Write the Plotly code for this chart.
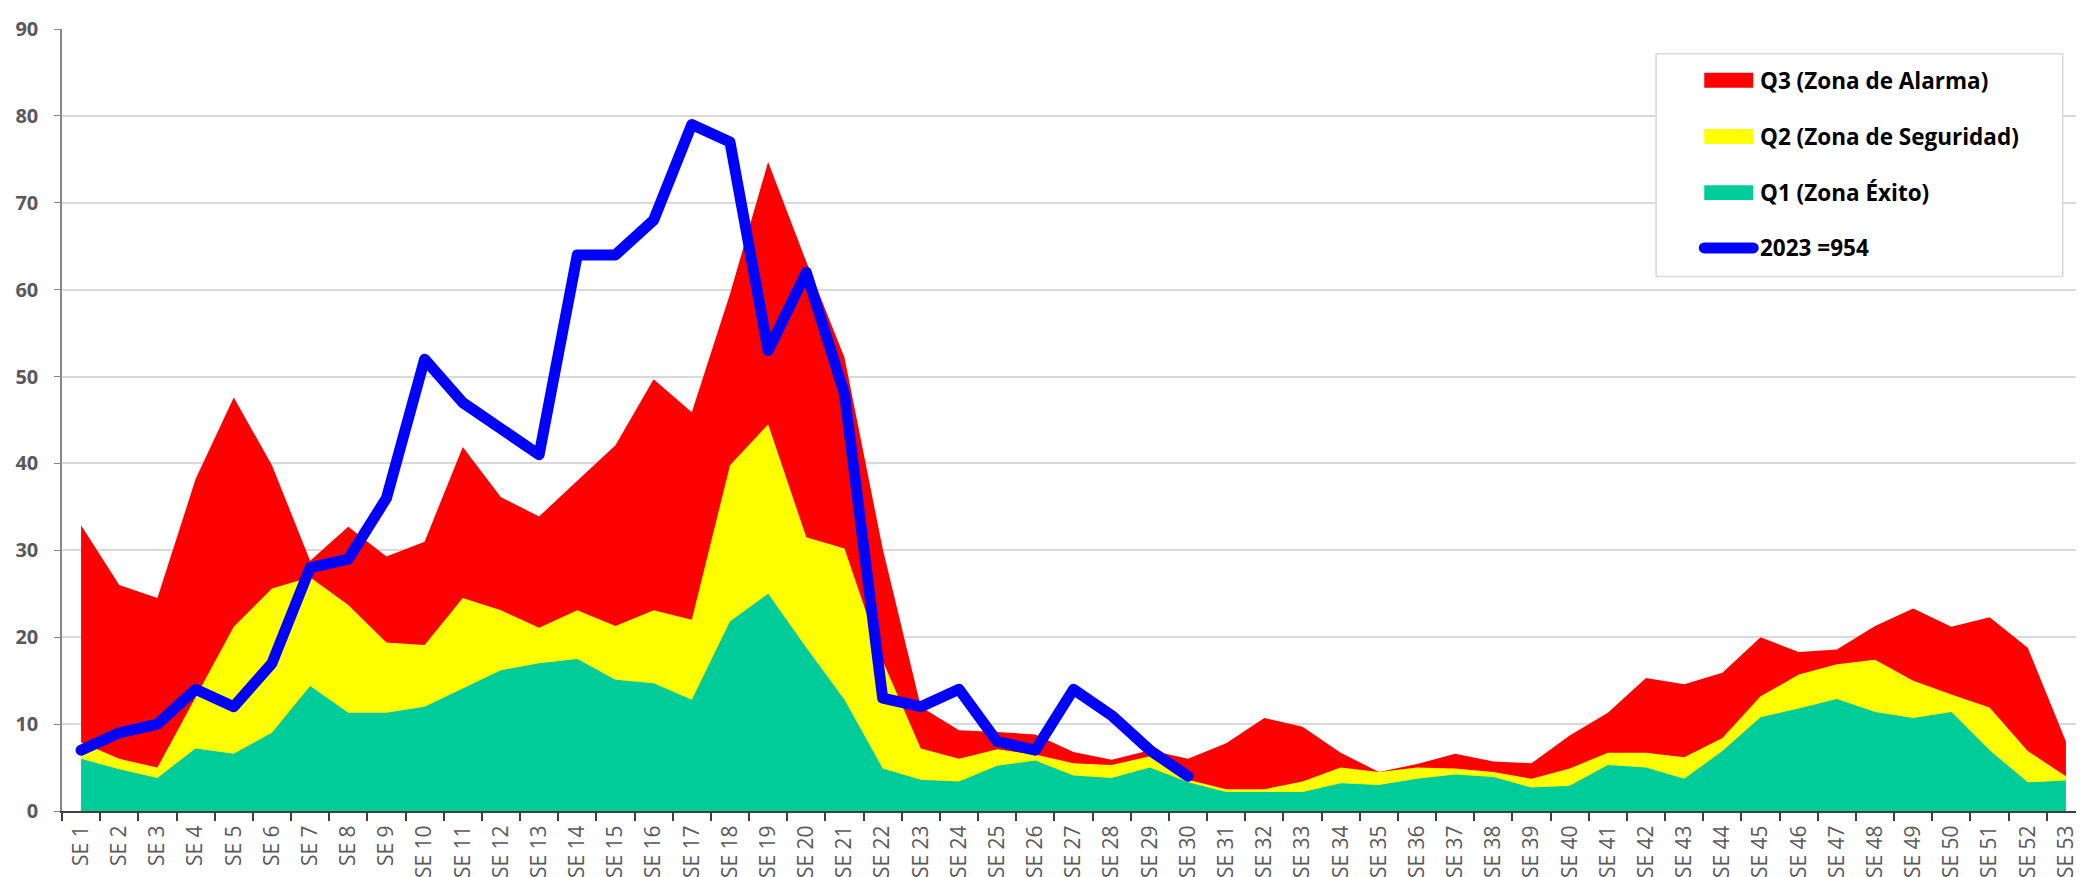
"""Canal endémico 2023 — zonas Q1/Q2/Q3 por semana epidemiológica y casos 2023."""

import plotly.graph_objects as go

WEEKS = [f"SE {i}" for i in range(1, 54)]

# Q3 (zona de alarma) — upper limit per week
Q3 = [32.9, 26.0, 24.5, 38.2, 47.6, 39.8, 28.8, 32.7, 29.3, 31.0,
      41.9, 36.1, 33.9, 38.0, 42.1, 49.7, 45.9, 59.5, 74.7, 63.2,
      52.2, 30.2, 12.0, 9.3, 9.1, 8.8, 6.8, 5.9, 7.0, 6.0,
      7.8, 10.7, 9.7, 6.7, 4.5, 5.4, 6.6, 5.7, 5.5, 8.7,
      11.3, 15.3, 14.6, 15.9, 20.0, 18.3, 18.6, 21.3, 23.3, 21.2,
      22.3, 18.8, 8.0]

# Q2 (zona de seguridad)
Q2 = [7.9, 6.0, 5.0, 13.1, 21.2, 25.6, 26.9, 23.7, 19.4, 19.1,
      24.5, 23.1, 21.1, 23.1, 21.3, 23.1, 22.0, 39.8, 44.5, 31.5,
      30.2, 17.3, 7.2, 6.0, 7.1, 6.5, 5.5, 5.3, 6.3, 3.6,
      2.5, 2.5, 3.4, 5.0, 4.5, 5.0, 4.9, 4.5, 3.7, 4.9,
      6.7, 6.7, 6.2, 8.4, 13.2, 15.7, 16.9, 17.4, 15.0, 13.4,
      11.9, 6.9, 4.0]

# Q1 (zona de éxito)
Q1 = [6.0, 4.8, 3.8, 7.2, 6.6, 9.0, 14.4, 11.3, 11.3, 12.0,
      14.1, 16.2, 17.0, 17.5, 15.1, 14.7, 12.8, 21.8, 25.0, 18.8,
      12.8, 4.9, 3.6, 3.4, 5.2, 5.8, 4.1, 3.8, 5.0, 3.3,
      2.2, 2.2, 2.2, 3.2, 3.0, 3.7, 4.2, 3.9, 2.7, 2.9,
      5.3, 5.0, 3.7, 6.9, 10.8, 11.8, 12.9, 11.4, 10.7, 11.4,
      7.0, 3.3, 3.5]

# 2023 weekly cases (SE 1 – SE 30)
CASES_2023 = [7, 9, 10, 14, 12, 17, 28, 29, 36, 52,
              47, 44, 41, 64, 64, 68, 79, 77, 53, 62,
              48, 13, 12, 14, 8, 7, 14, 11, 7, 4]

ZONES = [
    ("Q3 (Zona de Alarma)", Q3, "#FF0000"),
    ("Q2 (Zona de Seguridad)", Q2, "#FFFF00"),
    ("Q1 (Zona Éxito)", Q1, "#00CC99"),
]
LINE_NAME = "2023 =954"
BLUE = "#0000FF"
GRID = "#d9d9d9"
LABEL = "#595959"
FONT = "Open Sans"

fig = go.Figure()

for name, vals, color in ZONES:
    fig.add_trace(
        go.Scatter(
            x=WEEKS,
            y=vals,
            name=name,
            mode="none",
            fill="tozeroy",
            fillcolor=color,
            showlegend=False,
        )
    )

fig.add_trace(
    go.Scatter(
        x=WEEKS[: len(CASES_2023)],
        y=CASES_2023,
        name=LINE_NAME,
        mode="lines",
        line=dict(color=BLUE, width=11),
        showlegend=False,
    )
)

fig.update_xaxes(
    type="category",
    range=[-0.5, len(WEEKS) - 0.5],
    tickson="boundaries",
    ticks="outside",
    ticklen=8,
    tickwidth=1.5,
    tickcolor="#404040",
    showline=True,
    linecolor="#404040",
    linewidth=2,
    showgrid=False,
    tickangle=-90,
    tickfont=dict(family=FONT, size=21, color=LABEL),
    ticklabelstandoff=4,
)
fig.update_yaxes(
    range=[0, 90],
    dtick=10,
    showgrid=True,
    gridcolor=GRID,
    gridwidth=1.5,
    zeroline=False,
    showline=True,
    linecolor="#868686",
    linewidth=1.5,
    ticks="outside",
    ticklen=6,
    tickcolor="#868686",
    tickfont=dict(family=FONT, size=20, color=LABEL, weight="bold"),
    ticklabelstandoff=12,
)

# right border of the plot area
fig.add_shape(type="line", xref="paper", yref="paper", x0=1, x1=1, y0=0, y1=1,
              line=dict(color=GRID, width=1.5))

# hand-drawn legend box (Excel style)
fig.add_shape(type="rect", xref="paper", yref="paper",
              x0=0.788, x1=0.989, y0=0.6835, y1=0.9685,
              line=dict(color=GRID, width=1.5), fillcolor="white")

legend_y = [0.9344, 0.8626, 0.7907, 0.7201]
sw_x0, sw_x1, half_h = 0.8118, 0.8360, 0.0095
for (name, _, color), y in zip(ZONES, legend_y[:3]):
    fig.add_shape(type="rect", xref="paper", yref="paper",
                  x0=sw_x0, x1=sw_x1, y0=y - half_h, y1=y + half_h,
                  line=dict(width=0), fillcolor=color)
fig.add_shape(type="line", xref="paper", yref="paper",
              x0=sw_x0, x1=sw_x1, y0=legend_y[3], y1=legend_y[3],
              line=dict(color=BLUE, width=11))

for name, y in zip([z[0] for z in ZONES] + [LINE_NAME], legend_y):
    fig.add_annotation(
        xref="paper", yref="paper", x=0.8384, y=y,
        text=name, showarrow=False, xanchor="left", yanchor="middle",
        font=dict(family=FONT, size=22.5, color="black", weight="bold"),
    )

fig.update_layout(
    width=2084,
    height=877,
    margin=dict(l=53, r=7, t=16, b=68),
    plot_bgcolor="white",
    paper_bgcolor="white",
    showlegend=False,
    font=dict(family=FONT, color=LABEL),
)

# Excel draws the thick series line with rounded joins and caps
ROUND_LINES = """
var gd = document.getElementById('{plot_id}');
gd.querySelectorAll('.scatterlayer .js-line, .shapelayer path').forEach(function (p) {
  if (p.style.stroke && p.style.stroke.indexOf('0, 0, 255') >= 0) {
    p.style.strokeLinejoin = 'round';
    p.style.strokeLinecap = 'round';
  }
});
"""

fig.write_html("out.html", post_script=ROUND_LINES)
